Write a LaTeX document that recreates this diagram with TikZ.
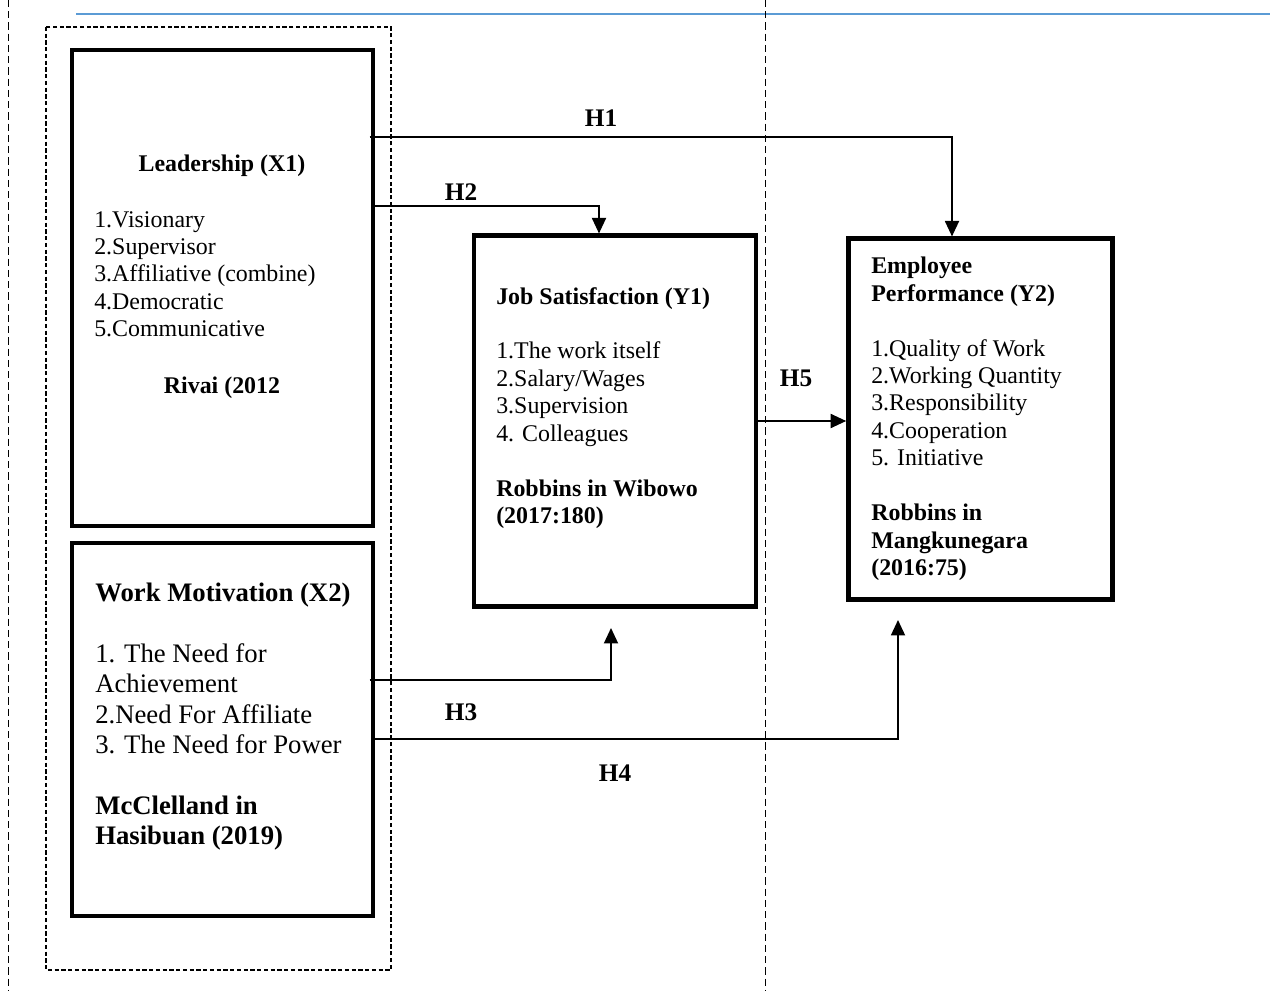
\documentclass[tikz,border=0pt]{standalone}
\usepackage{fontspec}
\setmainfont{Liberation Serif}
\usepackage{tikz}
\usetikzlibrary{arrows.meta,positioning}
\definecolor{ruleblue}{RGB}{91,155,213}

\tikzset{
  varbox/.style={draw, line width=3.3pt, inner sep=0pt},
  boxtext/.style={inner sep=0pt, align=left, anchor=north west,
    font=\fontsize{17}{19.5}\selectfont},
  hlabel/.style={inner sep=0pt, font=\fontsize{18}{21}\selectfont\bfseries},
  link/.style={line width=1.2pt, -{Triangle[length=11pt,width=10pt]}},
  guide/.style={line width=0.7pt, dash pattern=on 5pt off 3pt},
}

\begin{document}
\begin{tikzpicture}[x=0.025cm, y=-0.025cm]
\useasboundingbox (0,0) rectangle (1270,991);

% page rule and column guides
\draw[ruleblue, line width=2pt] (76,14) -- (1270,14);
\draw[guide] (8,0) -- (8,991);
\draw[guide] (765,0) -- (765,991);
\draw[line width=0.8pt, dash pattern=on 3pt off 1.8pt] (46,27) rectangle (391,970);

% variables
\node[
    varbox,
    minimum width=7.525cm,
    minimum height=11.9cm
] (x1) at (222.5,288) {};

\node[
    varbox,
    minimum width=7.525cm,
    minimum height=9.325cm
] (x2) at (222.5,729.5) {};

\node[
    varbox,
    minimum width=7.04cm,
    minimum height=9.26cm
] (y1) at (615,421) {};

\node[
    varbox,
    minimum width=6.6cm,
    minimum height=9.01cm
] (y2) at (980.5,419) {};

% box contents
\node[boxtext, anchor=north] (x1title) at (222,155) {\textbf{Leadership (X1)}};
\node[boxtext] (x1items) at (94,211) {1.Visionary\\2.Supervisor\\3.Affiliative (combine)\\4.Democratic\\5.Communicative};
\node[boxtext, anchor=north] (x1source) at (222,377) {\textbf{Rivai (2012}};

\node[boxtext, font=\fontsize{19}{21.6}\selectfont] (x2text) at (95,583) {\textbf{Work Motivation (X2)}\\[21.6pt]
  1. The Need for\\Achievement\\2.Need For Affiliate\\3. The Need for Power\\[21.6pt]
  \textbf{McClelland in}\\\textbf{Hasibuan (2019)}};

\node[boxtext] (y1text) at (496,287) {\textbf{Job Satisfaction (Y1)}\\[19.5pt]
  1.The work itself\\2.Salary/Wages\\3.Supervision\\4. Colleagues\\[19.5pt]
  \textbf{Robbins in Wibowo}\\\textbf{(2017:180)}};

\node[boxtext] (y2text) at (871,257) {\textbf{Employee}\\\textbf{Performance (Y2)}\\[19.5pt]
  1.Quality of Work\\2.Working Quantity\\3.Responsibility\\4.Cooperation\\5. Initiative\\[19.5pt]
  \textbf{Robbins in}\\\textbf{Mangkunegara}\\\textbf{(2016:75)}};

% hypotheses
\coordinate (h1bend) at (952,137);
\coordinate (h2bend) at (599,206);
\coordinate (h3bend) at (611,680);
\coordinate (h3tip) at (611,628);
\coordinate (h4bend) at (898,739);
\coordinate (h4tip) at (898,620);

\draw[link] ([xshift=-4pt]x1.east |- h1bend) -| (y2.north -| h1bend);
\draw[link] (x1.east |- h2bend) -| (y1.north -| h2bend);
\draw[link] ([xshift=-4pt]x2.east |- h3bend) -- (h3bend) -- (h3tip);
\draw[link] (x2.east |- h4bend) -- (h4bend) -- (h4tip);
\draw[link] (y1.east) -- (y1.east -| y2.west);

\node[hlabel] (h1) at (601,118) {H1};
\node[hlabel] (h2) at (461,192) {H2};
\node[hlabel] (h3) at (461,712) {H3};
\node[hlabel] (h4) at (615,773) {H4};
\node[hlabel] (h5) at (796,378) {H5};
\end{tikzpicture}
\end{document}
